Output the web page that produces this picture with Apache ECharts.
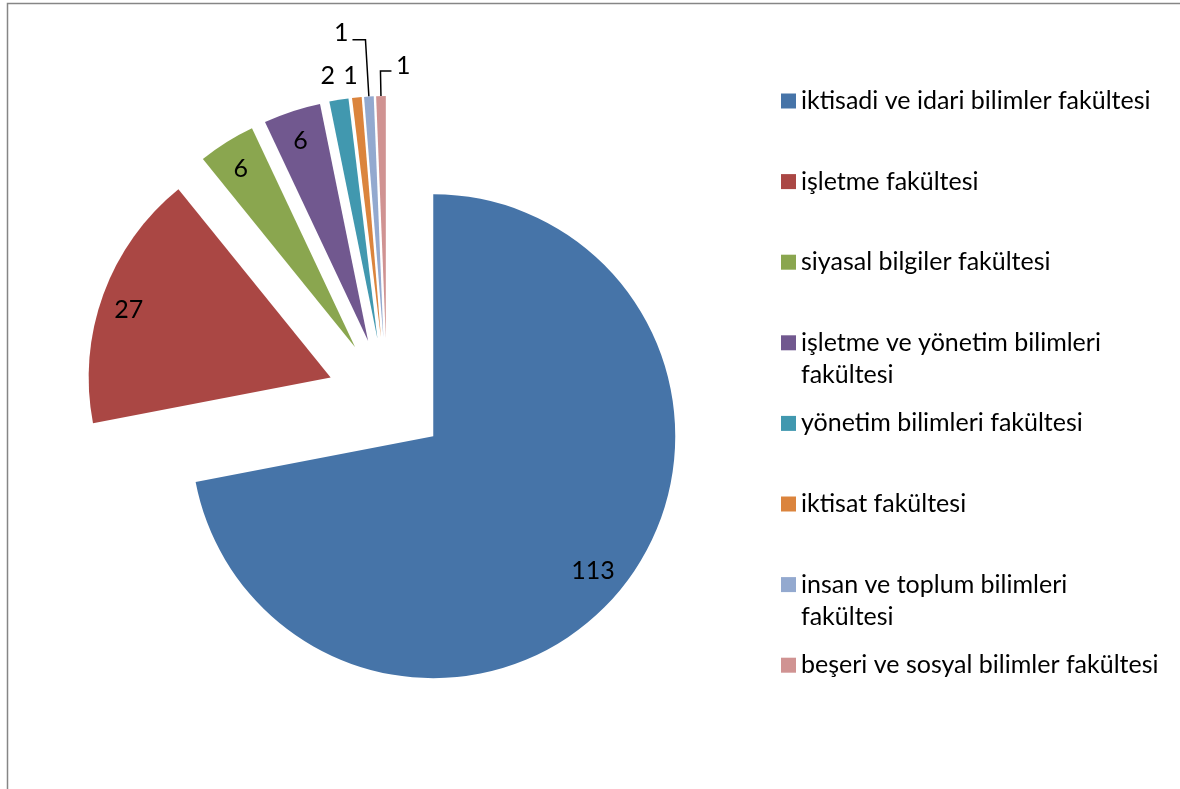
<!DOCTYPE html>
<html><head><meta charset="utf-8">
<script src="https://cdn.jsdelivr.net/npm/echarts@6/dist/echarts.min.js"></script>
<style>html,body{margin:0;padding:0;background:#fff}#c{width:1180px;height:789px}</style>
</head><body><div id="c"></div>
<script>
const categories = [
  'iktisadi ve idari bilimler fakültesi',
  'işletme fakültesi',
  'siyasal bilgiler fakültesi',
  'işletme ve yönetim bilimleri fakültesi',
  'yönetim bilimleri fakültesi',
  'iktisat fakültesi',
  'insan ve toplum bilimleri fakültesi',
  'beşeri ve sosyal bilimler fakültesi'
];
const values = [113, 27, 6, 6, 2, 1, 1, 1];
const legendLines = [
  ['iktisadi ve idari bilimler fakültesi'],
  ['işletme fakültesi'],
  ['siyasal bilgiler fakültesi'],
  ['işletme ve yönetim bilimleri', 'fakültesi'],
  ['yönetim bilimleri fakültesi'],
  ['iktisat fakültesi'],
  ['insan ve toplum bilimleri', 'fakültesi'],
  ['beşeri ve sosyal bilimler fakültesi']
];
const colors = ['#4674A8', '#AA4744', '#8AA64F', '#71588F', '#4198AF', '#DB843D', '#93A9CF', '#D09392'];

const FONT = 'Lato';
const FS = 25;
const CENTER = [387, 398];
const R = 242;
const OFFSET = 60;
const RICH = { v: { fontFamily: FONT, fontSize: FS, color: '#000' } };

// outside-label styling for the small slices (index -> label line config)
const outsideStyle = {
  4: { len: 24, len2: 0, show: false, dist: 0, pad: [0, 0, 0, 0] },
  5: { len: 22, len2: 0, show: false, dist: -3, pad: [0, 0, 0, 0] },
  6: { len: 57, len2: 13, show: true, dist: 4, pad: [0, 0, 14, 0] },
  7: { len: 25, len2: -11, show: true, dist: -19, pad: [0, 0, 10, 0] }
};
// fine nudges for the inside labels (text padding)
const insidePad = { 0: [0, 12, 4, 0], 1: [13, 0, 0, 0], 2: [7, 0, 0, 0], 3: [8, 0, 0, 0] };

const mainData = categories.map((n, i) => {
  const o = outsideStyle[i];
  const item = { name: n, value: values[i], selected: true, itemStyle: { color: colors[i] } };
  if (o) {
    item.label = { show: true, position: 'outside', distanceToLabelLine: o.dist, padding: o.pad };
    item.labelLine = { show: o.show, length: o.len, length2: o.len2 };
  } else {
    item.label = { show: false };
    item.labelLine = { show: false };
  }
  return item;
});

const labelData = categories.map((n, i) => ({
  name: n, value: values[i], selected: true,
  label: outsideStyle[i] ? { show: false } : { show: true, padding: insidePad[i] }
}));

const legendCenters = categories.map((_, i) => 101 + i * 80.6);
const legends = categories.map((n, i) => {
  const dbl = legendLines[i].length > 1;
  return {
    left: 781,
    top: legendCenters[i] - (dbl ? 48 : 16),
    orient: 'vertical',
    padding: 0,
    itemWidth: 15,
    itemHeight: 15,
    icon: 'rect',
    selectedMode: false,
    data: [n],
    formatter: () => legendLines[i].map(s => '{t|' + s + '}').join('\n'),
    textStyle: {
      fontFamily: FONT, fontSize: FS, color: '#000', lineHeight: 32,
      padding: dbl ? [32, 0, 0, 0] : 0,
      rich: { t: { fontFamily: FONT, fontSize: FS, color: '#000', lineHeight: 32 } }
    }
  };
});

const chart = echarts.init(document.getElementById('c'), null, { renderer: 'canvas' });
chart.setOption({
  animation: false,
  backgroundColor: '#fff',
  legend: legends,
  graphic: [{
    type: 'rect', silent: true,
    shape: { x: 7.5, y: 3.5, width: 1400, height: 1000 },
    style: { fill: 'none', stroke: '#868686', lineWidth: 1.5 }
  }],
  series: [
    {
      type: 'pie',
      center: CENTER,
      radius: R,
      startAngle: 90,
      clockwise: true,
      selectedMode: 'multiple',
      selectedOffset: OFFSET,
      avoidLabelOverlap: false,
      emphasis: { disabled: true },
      select: { itemStyle: { borderWidth: 0 } },
      itemStyle: { borderWidth: 0 },
      label: { color: '#000', fontFamily: FONT, fontSize: FS, formatter: '{v|{c}}', rich: RICH },
      labelLine: { lineStyle: { color: '#000', width: 1.5 }, minTurnAngle: 0, smooth: false },
      data: mainData
    },
    {
      type: 'pie',
      center: CENTER,
      radius: [R * 0.752, R],
      startAngle: 90,
      clockwise: true,
      selectedMode: 'multiple',
      selectedOffset: OFFSET,
      silent: true,
      avoidLabelOverlap: false,
      emphasis: { disabled: true },
      itemStyle: { color: 'rgba(0,0,0,0)', borderWidth: 0 },
      select: { itemStyle: { color: 'rgba(0,0,0,0)', borderWidth: 0 } },
      label: { position: 'inside', color: '#000', fontFamily: FONT, fontSize: FS, formatter: '{v|{c}}', rich: RICH },
      labelLine: { show: false },
      data: labelData
    }
  ]
});
</script>
</body></html>
